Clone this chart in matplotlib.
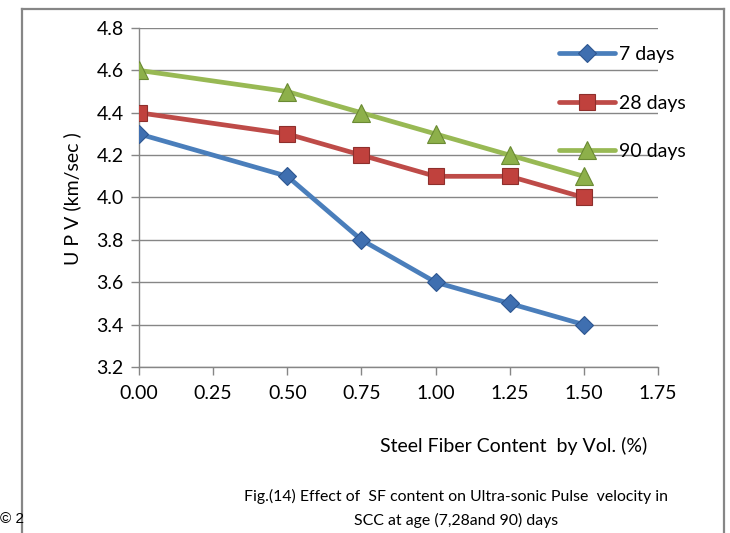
import matplotlib
matplotlib.use("Agg")
import matplotlib.pyplot as plt
from matplotlib.lines import Line2D

# Steel fibre content (% by volume) and UPV readings (km/sec)
sf_content = [0.00, 0.50, 0.75, 1.00, 1.25, 1.50]
upv_7 = [4.3, 4.1, 3.8, 3.6, 3.5, 3.4]
upv_28 = [4.4, 4.3, 4.2, 4.1, 4.1, 4.0]
upv_90 = [4.6, 4.5, 4.4, 4.3, 4.2, 4.1]
series_labels = ["7 days", "28 days", "90 days"]
x_ticks = [0.00, 0.25, 0.50, 0.75, 1.00, 1.25, 1.50, 1.75]
y_ticks = [3.2, 3.4, 3.6, 3.8, 4.0, 4.2, 4.4, 4.6, 4.8]

FONT = ["Lato", "DejaVu Sans"]
plt.rcParams["font.family"] = FONT

W, H = 730, 533
fig = plt.figure(figsize=(W / 100, H / 100), dpi=100)
fig.patch.set_facecolor("white")

def px(x0, y0, x1, y1):
    return [x0 / W, 1 - y1 / H, (x1 - x0) / W, (y1 - y0) / H]

ax = fig.add_axes(px(139, 28, 658, 367))

styles = [
    dict(color="#4A7EBB", marker="D", mfc="#3F6FB0", mec="#2E5690", ms=9.5),
    dict(color="#BE4B48", marker="s", mfc="#C0413D", mec="#8E2F2C", ms=11.5),
    dict(color="#98B954", marker="^", mfc="#8DB04A", mec="#6A8A33", ms=13),
]
handles = []
for vals, lab, st in zip([upv_7, upv_28, upv_90], series_labels, styles):
    h, = ax.plot(sf_content, vals, color=st["color"], lw=3.4,
                 marker=st["marker"], markersize=st["ms"],
                 markerfacecolor=st["mfc"], markeredgecolor=st["mec"],
                 markeredgewidth=0.8, solid_capstyle="round", label=lab,
                 zorder=3)
    handles.append(h)

ax.set_xlim(0, 1.75)
ax.set_ylim(3.2, 4.8)
ax.set_xticks(x_ticks)
ax.set_xticklabels([f"{v:.2f}" for v in x_ticks])
ax.set_yticks(y_ticks)
ax.set_yticklabels([f"{v:.1f}" for v in y_ticks])
ax.grid(axis="y", color="#868686", lw=1.0)
ax.set_axisbelow(True)
for side in ["top", "right"]:
    ax.spines[side].set_visible(False)
for side in ["left", "bottom"]:
    ax.spines[side].set_color("#868686")
    ax.spines[side].set_linewidth(1.0)
ax.tick_params(axis="both", colors="#868686", labelcolor="black",
               labelsize=14, length=6, width=1.0, direction="out")
ax.tick_params(axis="x", pad=7)
ax.tick_params(axis="y", pad=5)

fig.text(72 / W, 1 - 199 / H, "U P V (km/sec )", rotation=90,
         ha="center", va="center", fontsize=14)

leg = ax.legend(handles=handles, loc="upper left",
                bbox_to_anchor=((559 - 139) / (658 - 139), 1 - (46 - 28) / 339),
                frameon=False, fontsize=14, handlelength=2.9,
                handletextpad=0.2, labelspacing=1.62, borderaxespad=0,
                borderpad=0)

fig.text(514 / W, 1 - 446 / H, "Steel Fiber Content  by Vol. (%)",
         ha="center", va="center", fontsize=14)
fig.text(456 / W, 1 - 496 / H,
         "Fig.(14) Effect of  SF content on Ultra-sonic Pulse  velocity in",
         ha="center", va="center", fontsize=11.4)
fig.text(456 / W, 1 - 520 / H, "SCC at age (7,28and 90) days",
         ha="center", va="center", fontsize=11.4)

# outer chart border (open at bottom)
border = dict(color="#868686", lw=1.6, transform=fig.transFigure)
fig.add_artist(Line2D([22 / W, 22 / W], [0, 1 - 9 / H], **border))
fig.add_artist(Line2D([22 / W, 724 / W], [1 - 9 / H, 1 - 9 / H], **border))
fig.add_artist(Line2D([724 / W, 724 / W], [0, 1 - 9 / H], **border))

fig.text(0 / W, 1 - 519 / H, "© 2", ha="left", va="center", fontsize=11,
         family=["Liberation Sans", "DejaVu Sans"])

fig.savefig("out.png", dpi=100)
